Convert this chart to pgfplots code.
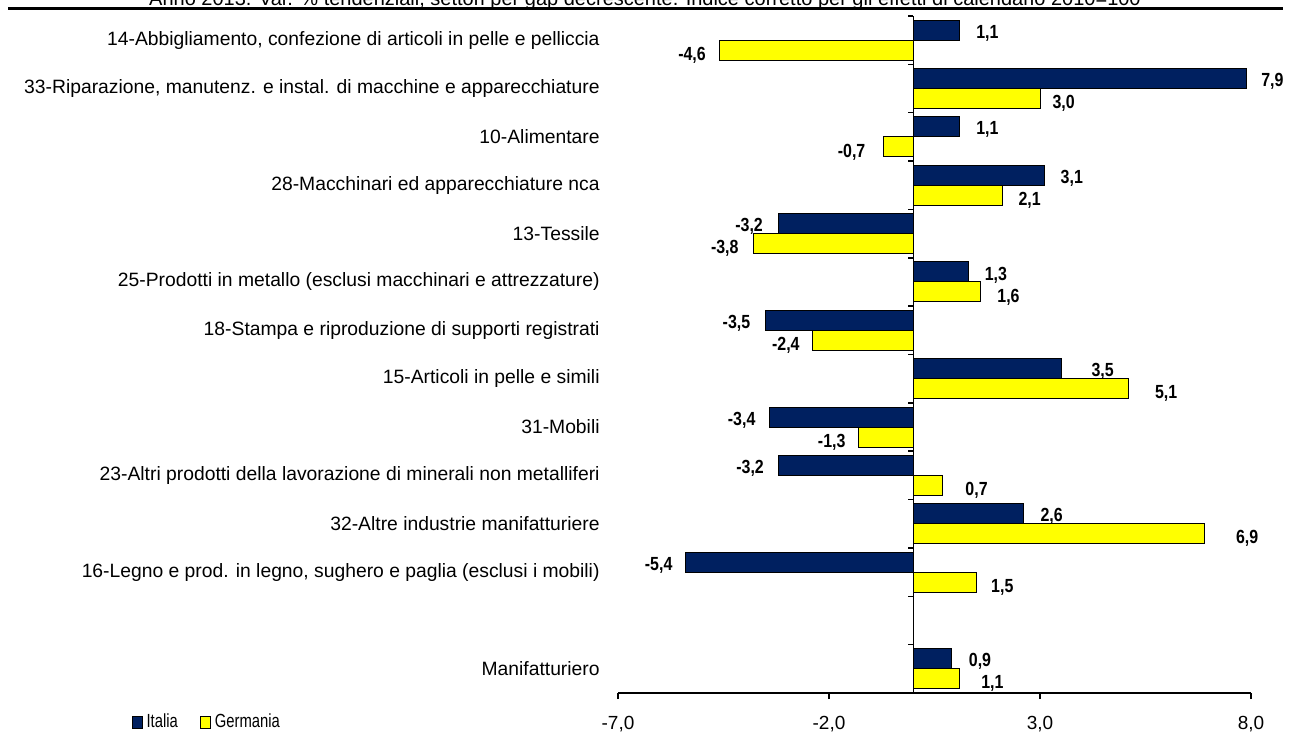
\documentclass[border=0pt]{standalone}
\usepackage{pgfplots}
\pgfplotsset{compat=1.18}
\usepackage{pgfplotstable}
\usepackage{fontspec}
\setmainfont{Liberation Sans}
\newfontfamily\narrowfont[FakeStretch=0.84]{Liberation Sans}
\newfontfamily\legfont[FakeStretch=0.78]{Liberation Sans}
\definecolor{itblue}{RGB}{0,32,96}
\definecolor{deyel}{RGB}{255,255,0}
\newcommand{\fs}{\fontsize{9.5pt}{11pt}\selectfont}
\newcommand{\fc}{\fontsize{9.65pt}{11pt}\selectfont}

\pgfplotstableread{
y it ge dit dge
13 1.1 -4.6 8 -6.5
12 7.9 3.0 7 6
11 1.1 -0.7 8 -9
10 3.1 2.1 8 8
9 -3.2 -3.8 -7.5 -7
8 1.3 1.6 8 8
7 -3.5 -2.4 -7.5 -6
6 3.5 5.1 15 13
5 -3.4 -1.3 -7 -6.3
4 -3.2 0.7 -7 11
3 2.6 6.9 8.5 15.5
2 -5.4 1.5 -6.3 7
0 0.9 1.1 8.5 10.5
}\data

\begin{document}
\begin{tikzpicture}
\useasboundingbox (0,0) rectangle (645pt,367.5pt);
\clip (0,0) rectangle (645pt,367.5pt);
\node[anchor=base, font=\fontsize{10pt}{12pt}\selectfont, inner sep=0pt] at (322.5pt,364.75pt) {Anno 2013. Var. \% tendenziali, settori per gap decrescente. Indice corretto per gli effetti di calendario 2010=100};
\draw[line width=1.5pt] (4pt,363.25pt) -- (641.5pt,363.25pt);
\begin{axis}[
  at={(309pt,21pt)}, anchor=south west,
  scale only axis, width=316.5pt, height=338.5pt,
  xbar, bar width=10pt,
  legend image code/.code={\draw[#1, line width=0.5pt] (0pt,-3pt) rectangle (5pt,3pt);},
  xmin=-7, xmax=8, ymin=-0.5, ymax=13.5,
  axis x line*=bottom, axis y line*=left,
  y axis line style={draw=none},
  x axis line style={line width=0.75pt},
  xtick={-7,-2,3,8},
  tick align=outside,
  major tick length=3pt,
  xtick style={line width=0.75pt, black},
  xticklabel style={font=\fs, yshift=-5pt, /pgf/number format/.cd, fixed, fixed zerofill, precision=1, use comma, assume math mode=true},
  ytick={0,2,3,4,5,6,7,8,9,10,11,12,13},
  ytick style={draw=none},
  yticklabel style={font=\fc, anchor=east, inner sep=0pt, xshift=-6pt},
  yticklabels={
    Manifatturiero,
    {16-Legno e prod. in legno, sughero e paglia (esclusi i mobili)},
    {32-Altre industrie manifatturiere},
    {23-Altri prodotti della lavorazione di minerali non metalliferi},
    {31-Mobili},
    {15-Articoli in pelle e simili},
    {18-Stampa e riproduzione di supporti registrati},
    {25-Prodotti in metallo (esclusi macchinari e attrezzature)},
    {13-Tessile},
    {28-Macchinari ed apparecchiature nca},
    {10-Alimentare},
    {33-Riparazione, manutenz. e instal. di macchine e apparecchiature},
    {14-Abbigliamento, confezione di articoli in pelle e pelliccia}
  },
  clip=false,
  point meta=x,
  nodes near coords={\pgfmathprintnumber[fixed,fixed zerofill,precision=1,use comma,assume math mode=true]{\pgfplotspointmeta}},
  nodes near coords align=horizontal,
  every node near coord/.append style={font=\narrowfont\bfseries\fs, inner sep=0pt, text=black},
  legend style={at={(axis description cs:-0.769,-0.043)}, anchor=west, draw=none, fill=none, font=\legfont\fs, inner sep=0pt, legend columns=2, /tikz/every even column/.append style={column sep=9pt}},
  legend cell align=left,
]
\addplot[fill=itblue, draw=black, line width=0.5pt, bar shift=5pt,
  visualization depends on={\thisrow{dit} \as \dx},
  every node near coord/.append style={xshift=\dx pt, yshift=-1.5pt}]
  table[x=it, y=y]{\data};
\addlegendentry{Italia}
\addplot[fill=deyel, draw=black, line width=0.5pt, bar shift=-5pt,
  visualization depends on={\thisrow{dge} \as \dx},
  every node near coord/.append style={xshift=\dx pt, yshift=-2.5pt}]
  table[x=ge, y=y]{\data};
\addlegendentry{Germania}
\draw[line width=0.75pt] (axis cs:0,-0.5) -- (axis cs:0,13.5);
\pgfplotsinvokeforeach{-0.5,0.5,...,13.5}{\draw[line width=0.75pt] (axis cs:0,#1) -- ++(-2.5pt,0pt);}
\end{axis}
\end{tikzpicture}
\end{document}
